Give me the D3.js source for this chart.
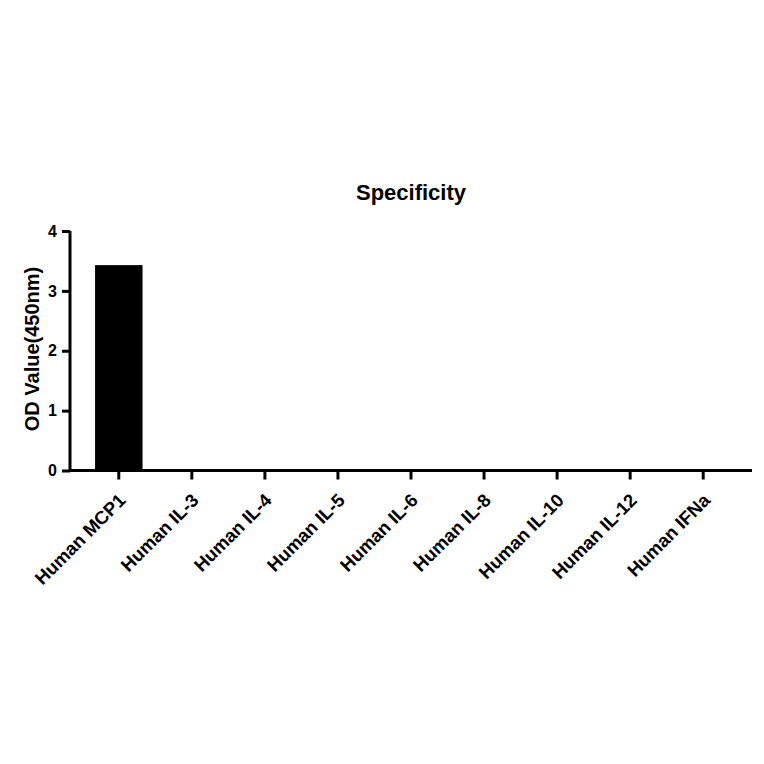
<!DOCTYPE html>
<html><head><meta charset="utf-8">
<script src="https://cdn.jsdelivr.net/npm/d3@7"></script>
<style>body{margin:0;background:#fff}svg{display:block}text{font-family:"Liberation Sans",Arial,sans-serif;font-weight:bold;fill:#000}</style>
</head><body>
<script>
const categories = ["Human MCP1","Human IL-3","Human IL-4","Human IL-5","Human IL-6","Human IL-8","Human IL-10","Human IL-12","Human IFNa"];
const values = [3.43, 0, 0, 0, 0, 0, 0, 0, 0];
const yTicks = [0, 1, 2, 3, 4];
const title = "Specificity";
const yLabel = "OD Value(450nm)";

const W = 764, H = 764;
const svg = d3.select("body").append("svg").attr("width", W).attr("height", H);
const x = d3.scaleBand().domain(categories).range([70, 752]).paddingInner(0.35).paddingOuter(0.343);
const y = d3.scaleLinear().domain([0, 4]).range([470.5, 231]);

svg.selectAll("rect.bar").data(values).enter().append("rect")
  .attr("class", "bar")
  .attr("x", (d, i) => x(categories[i]))
  .attr("width", x.bandwidth())
  .attr("y", d => y(d))
  .attr("height", d => y(0) - y(d))
  .attr("fill", "#000");

const yAxis = svg.append("g").attr("transform", "translate(70,0)")
  .call(d3.axisLeft(y).tickValues(yTicks).tickFormat(d3.format("d")).tickSize(8).tickPadding(5));
yAxis.select(".domain").attr("stroke-width", 3).attr("d", `M0,${y(4)}V${y(0)}`);
yAxis.selectAll(".tick line").attr("stroke-width", 3);
yAxis.selectAll(".tick text").style("font-size", "16px").style("font-family", "Liberation Sans, Arial, sans-serif").style("font-weight", "bold");

const xAxis = svg.append("g").attr("transform", `translate(0,${y(0)})`)
  .call(d3.axisBottom(x).tickSize(9).tickPadding(4));
xAxis.select(".domain").attr("stroke-width", 3).attr("d", "M70,0H752");
xAxis.selectAll(".tick line").attr("stroke-width", 3);
xAxis.selectAll(".tick text")
  .style("font-size", "18.5px").style("font-family", "Liberation Sans, Arial, sans-serif").style("font-weight", "bold")
  .attr("text-anchor", "end").attr("dy", null).attr("y", 0)
  .attr("transform", "translate(8,31) rotate(-45)");

svg.append("text").attr("x", 411).attr("y", 200).attr("text-anchor", "middle")
  .style("font-size", "22px").text(title);

svg.append("text").attr("transform", "translate(39,349) rotate(-90)").attr("text-anchor", "middle")
  .style("font-size", "20px").text(yLabel);
</script>
</body></html>
